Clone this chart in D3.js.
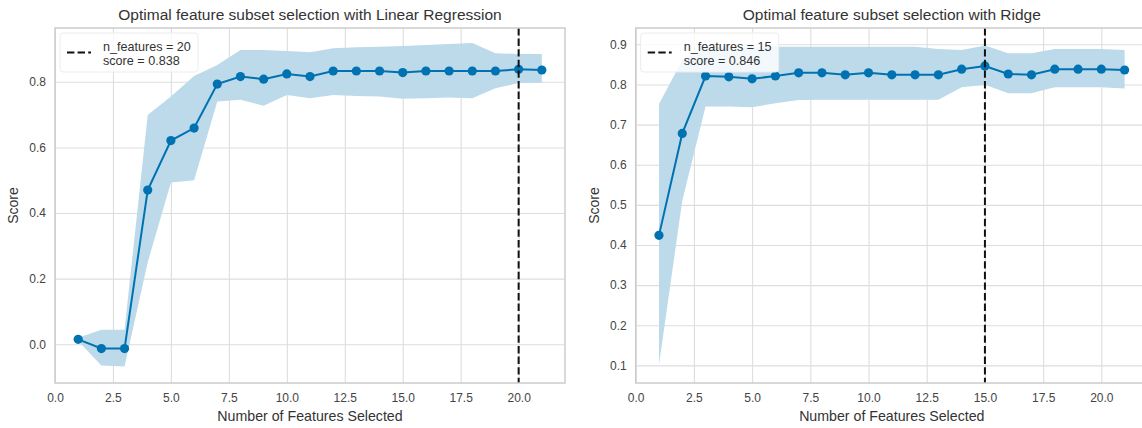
<!DOCTYPE html>
<html>
<head>
<meta charset="utf-8">
<script src="https://cdn.jsdelivr.net/npm/d3@7"></script>
<style>
  html, body { margin: 0; padding: 0; background: #fff; }
  svg { display: block; font-family: "Liberation Sans", Arial, sans-serif; }
</style>
</head>
<body>
<svg id="chart" width="1142" height="428"></svg>
<script>
// Number of features retained at each step of recursive elimination
const featureCounts = [1, 2, 3, 4, 5, 6, 7, 8, 9, 10, 11, 12, 13, 14, 15, 16, 17, 18, 19, 20, 21];

// Linear Regression: mean cross-validated score and +/- 1 std band
const lrScores = [0.015, -0.013, -0.013, 0.470, 0.621, 0.659, 0.793, 0.816, 0.808, 0.824, 0.816,
                  0.833, 0.833, 0.833, 0.828, 0.833, 0.833, 0.833, 0.833, 0.838, 0.836];
const lrUpper  = [0.020, 0.044, 0.044, 0.699, 0.755, 0.818, 0.851, 0.897, 0.897, 0.894, 0.890,
                  0.902, 0.905, 0.907, 0.909, 0.912, 0.915, 0.918, 0.887, 0.885, 0.885];
const lrLower  = [0.010, -0.065, -0.068, 0.250, 0.493, 0.500, 0.740, 0.745, 0.727, 0.760, 0.750,
                  0.760, 0.757, 0.755, 0.748, 0.750, 0.752, 0.750, 0.780, 0.796, 0.797];
const lrBest = { n: 20, score: "0.838" };

// Ridge: mean cross-validated score and +/- 1 std band
const ridgeScores = [0.424, 0.678, 0.821, 0.819, 0.814, 0.821, 0.829, 0.829, 0.824, 0.829, 0.824,
                     0.824, 0.824, 0.838, 0.846, 0.826, 0.824, 0.838, 0.838, 0.838, 0.836];
const ridgeUpper  = [0.751, 0.860, 0.894, 0.894, 0.894, 0.894, 0.894, 0.894, 0.894, 0.894, 0.894,
                     0.894, 0.888, 0.886, 0.897, 0.878, 0.878, 0.888, 0.888, 0.888, 0.886];
const ridgeLower  = [0.102, 0.510, 0.745, 0.745, 0.743, 0.753, 0.761, 0.762, 0.762, 0.762, 0.762,
                     0.762, 0.762, 0.793, 0.799, 0.778, 0.778, 0.793, 0.793, 0.793, 0.790];
const ridgeBest = { n: 15, score: "0.846" };

// Axis ticks
const xTicks = [0, 2.5, 5, 7.5, 10, 12.5, 15, 17.5, 20];
const lrYTicks = [0.0, 0.2, 0.4, 0.6, 0.8];
const ridgeYTicks = [0.1, 0.2, 0.3, 0.4, 0.5, 0.6, 0.7, 0.8, 0.9];

const LINE = "#0072b2";
const BAND = "#bcdaea";
const GRID = "#dddddd";
const FRAME = "#cccccc";
const TEXT = "#444444";

const svg = d3.select("#chart");

function panel(opts) {
  const { left, right, top, bottom, yDomain, yTicks, scores, upper, lower, best, title, titleX } = opts;
  const g = svg.append("g");

  const x = d3.scaleLinear().domain([0, 22]).range([left, right]);
  const y = d3.scaleLinear().domain(yDomain).range([bottom, top]);

  const clipId = "clip" + Math.round(left);
  g.append("clipPath").attr("id", clipId)
    .append("rect").attr("x", left).attr("y", top)
    .attr("width", right - left).attr("height", bottom - top);

  // grid lines
  g.append("g")
    .attr("transform", `translate(0,${bottom})`)
    .call(d3.axisBottom(x).tickValues(xTicks).tickSize(-(bottom - top)).tickFormat(""))
    .call(a => a.select(".domain").remove())
    .call(a => a.selectAll("line").attr("stroke", GRID).attr("stroke-width", 1.1));
  g.append("g")
    .attr("transform", `translate(${left},0)`)
    .call(d3.axisLeft(y).tickValues(yTicks).tickSize(-(right - left)).tickFormat(""))
    .call(a => a.select(".domain").remove())
    .call(a => a.selectAll("line").attr("stroke", GRID).attr("stroke-width", 1.1));

  const rows = featureCounts.map((n, i) => ({ n, s: scores[i], hi: upper[i], lo: lower[i] }));
  const plot = g.append("g").attr("clip-path", `url(#${clipId})`);

  // +/- std band
  plot.append("path")
    .datum(rows)
    .attr("fill", BAND)
    .attr("d", d3.area().x(d => x(d.n)).y0(d => y(d.lo)).y1(d => y(d.hi)));

  // mean score line and markers
  plot.append("path")
    .datum(rows)
    .attr("fill", "none")
    .attr("stroke", LINE)
    .attr("stroke-width", 2)
    .attr("d", d3.line().x(d => x(d.n)).y(d => y(d.s)));
  plot.selectAll("circle.pt")
    .data(rows)
    .join("circle")
    .attr("class", "pt")
    .attr("cx", d => x(d.n))
    .attr("cy", d => y(d.s))
    .attr("r", 4.6)
    .attr("fill", LINE);

  // selected number of features
  plot.append("line")
    .attr("x1", x(best.n)).attr("x2", x(best.n))
    .attr("y1", top).attr("y2", bottom)
    .attr("stroke", "#111")
    .attr("stroke-width", 2)
    .attr("stroke-dasharray", "7.4,3.2");

  // frame
  g.append("rect")
    .attr("x", left).attr("y", top)
    .attr("width", right - left).attr("height", bottom - top)
    .attr("fill", "none").attr("stroke", FRAME).attr("stroke-width", 1.5);

  // tick labels
  const xAxis = g.append("g")
    .attr("transform", `translate(0,${bottom})`)
    .call(d3.axisBottom(x).tickValues(xTicks).tickSize(0).tickPadding(10).tickFormat(d3.format(".1f")));
  xAxis.select(".domain").remove();
  xAxis.selectAll("text").attr("fill", TEXT).attr("font-size", 12).attr("font-family", null);

  const yAxis = g.append("g")
    .attr("transform", `translate(${left},0)`)
    .call(d3.axisLeft(y).tickValues(yTicks).tickSize(0).tickPadding(9).tickFormat(d3.format(".1f")));
  yAxis.select(".domain").remove();
  yAxis.selectAll("text").attr("fill", TEXT).attr("font-size", 12).attr("font-family", null);

  // titles
  g.append("text")
    .attr("x", titleX)
    .attr("y", 20)
    .attr("text-anchor", "middle")
    .attr("font-size", 15.5)
    .attr("fill", "#333")
    .text(title);
  g.append("text")
    .attr("x", (left + right) / 2)
    .attr("y", 421)
    .attr("text-anchor", "middle")
    .attr("font-size", 14.2)
    .attr("fill", "#333")
    .text("Number of Features Selected");
  g.append("text")
    .attr("transform", `translate(${left - 37},${(top + bottom) / 2}) rotate(-90)`)
    .attr("text-anchor", "middle")
    .attr("font-size", 14)
    .attr("fill", "#333")
    .text("Score");

  // legend
  const lg = g.append("g").attr("transform", `translate(${left + 5},${top + 5})`);
  lg.append("rect")
    .attr("width", 138).attr("height", 39).attr("rx", 3)
    .attr("fill", "#fff").attr("fill-opacity", 0.8)
    .attr("stroke", "#ececec");
  lg.append("line")
    .attr("x1", 7).attr("x2", 31).attr("y1", 19.5).attr("y2", 19.5)
    .attr("stroke", "#111").attr("stroke-width", 2).attr("stroke-dasharray", "7.4,3.2");
  lg.append("text").attr("x", 43).attr("y", 18).attr("font-size", 12.6).attr("fill", "#333")
    .text(`n_features = ${best.n}`);
  lg.append("text").attr("x", 43).attr("y", 32).attr("font-size", 12.6).attr("fill", "#333")
    .text(`score = ${best.score}`);
}

panel({
  left: 55, right: 565, top: 28, bottom: 383,
  yDomain: [-0.118, 0.964], yTicks: lrYTicks,
  scores: lrScores, upper: lrUpper, lower: lrLower, best: lrBest,
  title: "Optimal feature subset selection with Linear Regression", titleX: 310
});

panel({
  left: 635.7, right: 1147.9, top: 28, bottom: 383,
  yDomain: [0.0562, 0.9406], yTicks: ridgeYTicks,
  scores: ridgeScores, upper: ridgeUpper, lower: ridgeLower, best: ridgeBest,
  title: "Optimal feature subset selection with Ridge", titleX: 891.8
});
</script>
</body>
</html>
